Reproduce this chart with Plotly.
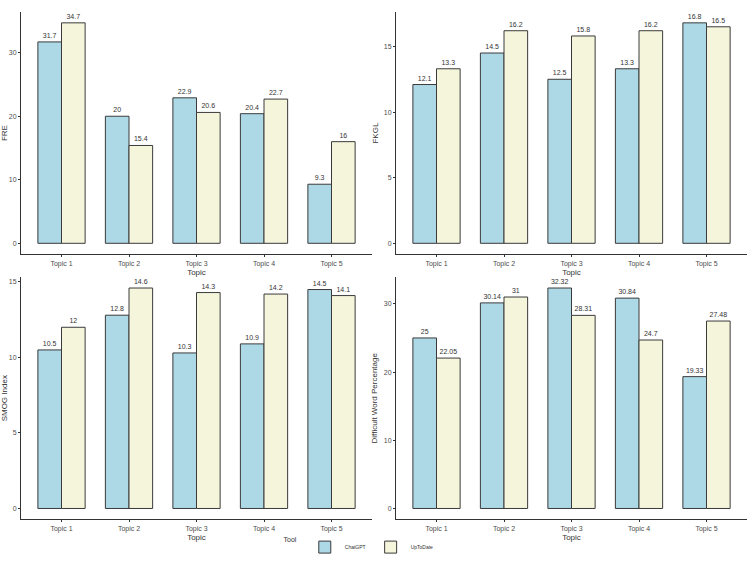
import plotly.graph_objects as go

topics = ["Topic 1", "Topic 2", "Topic 3", "Topic 4", "Topic 5"]
tools = ["ChatGPT", "UpToDate"]

fre_chatgpt = [31.7, 20, 22.9, 20.4, 9.3]
fre_uptodate = [34.7, 15.4, 20.6, 22.7, 16]
fkgl_chatgpt = [12.1, 14.5, 12.5, 13.3, 16.8]
fkgl_uptodate = [13.3, 16.2, 15.8, 16.2, 16.5]
smog_chatgpt = [10.5, 12.8, 10.3, 10.9, 14.5]
smog_uptodate = [12, 14.6, 14.3, 14.2, 14.1]
dwp_chatgpt = [25, 30.14, 32.32, 30.84, 19.33]
dwp_uptodate = [22.05, 31, 28.31, 24.7, 27.48]

panels = [
    ("FRE", fre_chatgpt, fre_uptodate, 10),
    ("FKGL", fkgl_chatgpt, fkgl_uptodate, 5),
    ("SMOG Index", smog_chatgpt, smog_uptodate, 5),
    ("Difficult Word Percentage", dwp_chatgpt, dwp_uptodate, 10),
]

colors = {"ChatGPT": "#ADD8E6", "UpToDate": "#F5F5DC"}
FONT = "Liberation Sans, Arial, sans-serif"
W, H = 750, 562

# pixel geometry of panels (left, right, top, bottom)
xdoms = [(21, 372), (396, 747)]
ydoms = [(12, 258), (281, 527)]

fig = go.Figure()
layout = {}
for i, (title, a, b, dt) in enumerate(panels):
    r, c = divmod(i, 2)
    n = "" if i == 0 else str(i + 1)
    xa, ya = "x" + n, "y" + n
    for tool, vals in zip(tools, [a, b]):
        fig.add_trace(go.Bar(
            x=topics, y=vals, name=tool, legendgroup=tool, showlegend=(i == 0),
            marker=dict(color=colors[tool], line=dict(color="#3a3a3a", width=1)),
            text=[f"{v:g}" for v in vals], textposition="outside",
            textfont=dict(size=7, color="#333333", family=FONT),
            cliponaxis=False, xaxis=xa, yaxis=ya,
            offsetgroup=tool,
        ))
    ymax = max(a + b)
    x0, x1 = xdoms[c]
    y0, y1 = ydoms[r]
    layout["xaxis" + n] = dict(
        domain=[x0 / W, x1 / W], anchor=ya, range=[-0.6, 4.6],
        showline=True, linecolor="#333333", linewidth=1, ticks="outside",
        ticklen=2, tickcolor="#333333", tickfont=dict(size=7, color="#4d4d4d"),
        title=dict(text="Topic", font=dict(size=8, color="#333333"), standoff=2),
        showgrid=False, zeroline=False, automargin=False,
    )
    layout["yaxis" + n] = dict(
        domain=[1 - y1 / H, 1 - y0 / H], anchor=xa,
        range=[-0.05 * ymax, 1.05 * ymax], dtick=dt, tick0=0,
        showline=True, linecolor="#333333", linewidth=1, ticks="outside",
        ticklen=2, tickcolor="#333333", tickfont=dict(size=7, color="#4d4d4d"),
        title=dict(text=title, font=dict(size=8, color="#333333"), standoff=4),
        showgrid=False, zeroline=False, automargin=False,
    )

fig.update_layout(
    width=W, height=H, margin=dict(l=0, r=0, t=0, b=0),
    paper_bgcolor="white", plot_bgcolor="white",
    font=dict(family=FONT, size=7, color="#333333"),
    barmode="group", bargap=0.3, bargroupgap=0,
    legend=dict(orientation="h", x=0.48, xanchor="center", y=1 - 555 / H,
                yanchor="middle",
                title=dict(text="Tool", side="left", font=dict(size=7)),
                font=dict(size=5), itemwidth=30, tracegroupgap=0),
    **layout,
)
fig.write_html("out.html")
